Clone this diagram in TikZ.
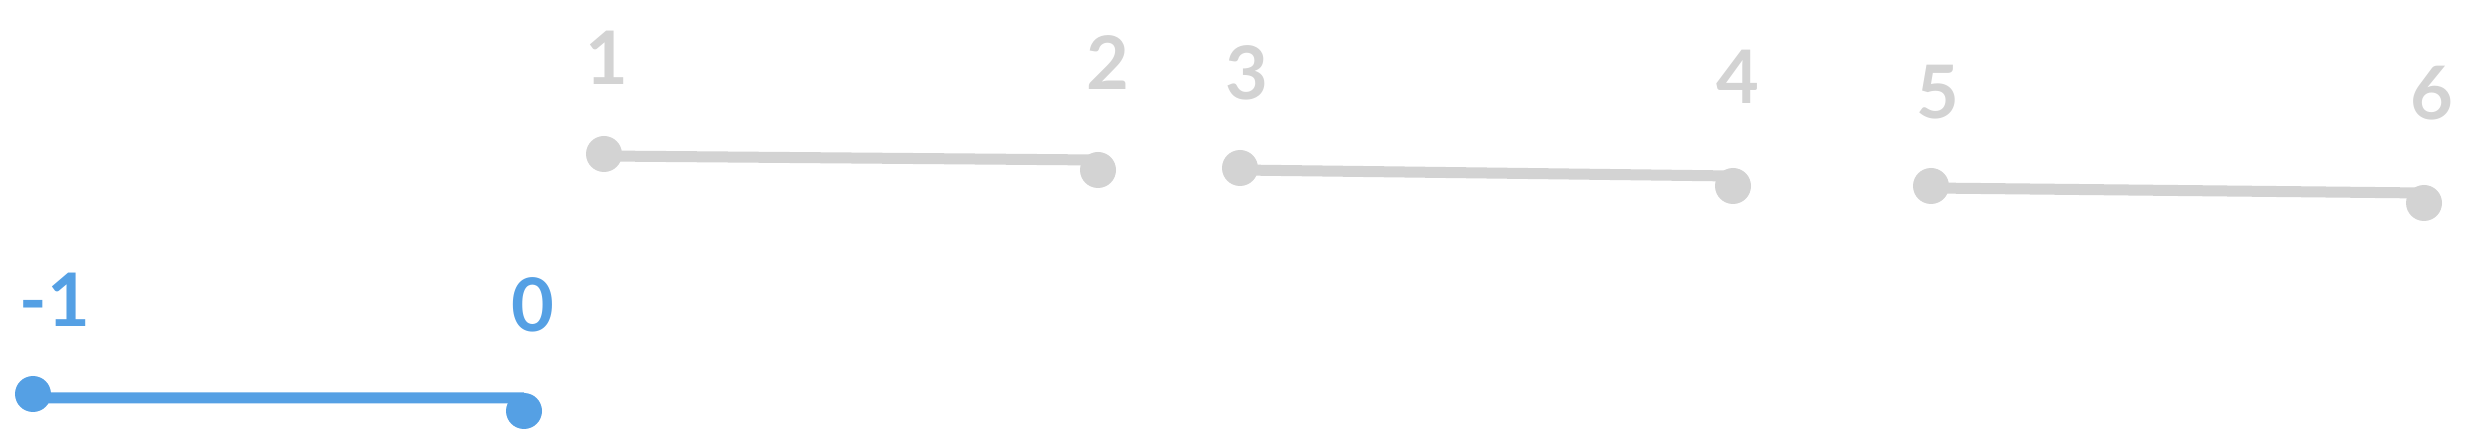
\documentclass[tikz,border=0pt]{standalone}
\usepackage{fontspec}
\setmainfont{Lato}
\usepackage{xcolor}
\usepackage{tikz}

\definecolor{segblue}{RGB}{85,160,228}
\definecolor{seggray}{RGB}{211,211,211}

\begin{document}
\begin{tikzpicture}[
    dot/.style={circle, fill=#1, minimum size=0.36cm, inner sep=0pt},
    seg/.style={line width=0.11cm, draw=#1},
    lbl/.style={text=#1, font=\fontsize{21}{24}\selectfont\bfseries, inner sep=0pt}
]
\useasboundingbox (0,0) rectangle (24.76,4.30);

% current segment
\node[dot=segblue] (a0) at (0.33,0.36) {};
\node[dot=segblue] (b0) at (5.24,0.19) {};
\node[lbl=segblue] (la0) at (0.55,1.30) {-1};
\node[lbl=segblue] (lb0) at (5.33,1.25) {0};
\draw[seg=segblue] ([yshift=-0.04cm]a0.center) -- ([yshift=0.13cm]b0.center);

% next segments
\node[dot=seggray] (a1) at (6.04,2.76) {};
\node[dot=seggray] (b1) at (10.98,2.60) {};
\node[lbl=seggray] (la1) at (6.07,3.72) {1};
\node[lbl=seggray] (lb1) at (11.08,3.67) {2};
\draw[seg=seggray] ([yshift=-0.02cm]a1.center) -- ([yshift=0.1cm]b1.center);

\node[dot=seggray] (a2) at (12.40,2.62) {};
\node[dot=seggray] (b2) at (17.33,2.44) {};
\node[lbl=seggray] (la2) at (12.47,3.57) {3};
\node[lbl=seggray] (lb2) at (17.38,3.53) {4};
\draw[seg=seggray] ([yshift=-0.02cm]a2.center) -- ([yshift=0.1cm]b2.center);

\node[dot=seggray] (a3) at (19.31,2.44) {};
\node[dot=seggray] (b3) at (24.24,2.27) {};
\node[lbl=seggray] (la3) at (19.38,3.38) {5};
\node[lbl=seggray] (lb3) at (24.32,3.37) {6};
\draw[seg=seggray] ([yshift=-0.02cm]a3.center) -- ([yshift=0.1cm]b3.center);

\end{tikzpicture}
\end{document}
